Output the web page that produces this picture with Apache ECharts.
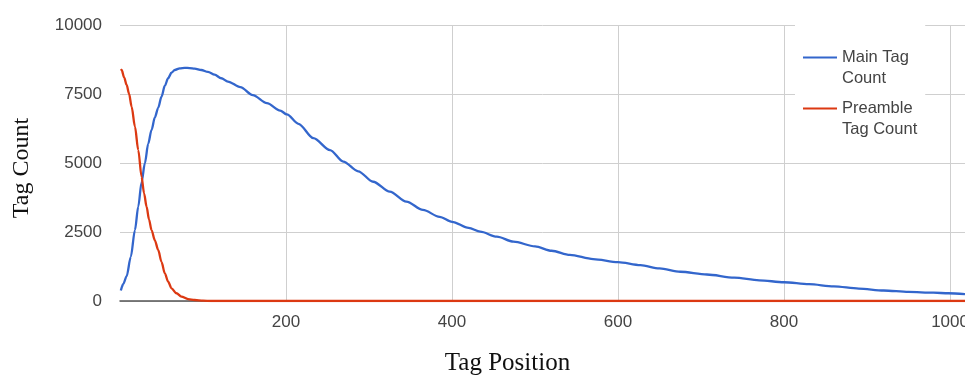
<!DOCTYPE html>
<html>
<head>
<meta charset="utf-8">
<script src="https://cdn.jsdelivr.net/npm/echarts@6/dist/echarts.min.js"></script>
<style>
html,body{margin:0;padding:0;background:#fff;overflow:hidden;}
#chart{width:965px;height:376px;}
</style>
</head>
<body>
<div id="chart"></div>
<script>
// Data
const mainX = [1, 4, 8, 13, 18, 22, 26, 30, 34, 38, 42, 46, 50, 54, 58, 62, 66, 72, 78, 84, 90, 98, 106, 114, 122, 130, 145, 160, 177, 193, 201, 215, 233, 253, 269, 287, 305, 325, 345, 365, 385, 400, 420, 434, 454, 474, 500, 520, 542, 570, 600, 627, 650, 675, 707, 740, 770, 800, 830, 860, 890, 920, 950, 980, 998, 1018];
const mainY = [380, 620, 900, 1600, 2570, 3420, 4300, 5000, 5700, 6200, 6650, 7000, 7400, 7800, 8070, 8270, 8370, 8430, 8450, 8440, 8420, 8370, 8300, 8200, 8070, 7950, 7750, 7460, 7170, 6900, 6760, 6420, 5900, 5470, 5050, 4700, 4320, 3960, 3600, 3300, 3050, 2870, 2650, 2510, 2330, 2150, 1980, 1820, 1670, 1520, 1410, 1300, 1180, 1060, 960, 850, 750, 680, 610, 530, 450, 380, 330, 300, 280, 250];
const preX = [1, 2, 5, 8, 11, 14, 18, 22, 26, 29, 32, 35, 38, 42, 46, 50, 54, 58, 62, 68, 74, 82, 90, 100, 110, 200, 400, 600, 800, 1018];
const preY = [8400, 8370, 8100, 7830, 7500, 7040, 6320, 5470, 4500, 3900, 3420, 2950, 2570, 2200, 1850, 1420, 1000, 700, 460, 280, 160, 70, 36, 10, 0, 0, 0, 0, 0, 0];
const seriesNames = ['Main Tag\nCount', 'Preamble\nTag Count'];
const xTicks = [200, 400, 600, 800, 1000];
const yTicks = [0, 2500, 5000, 7500, 10000];

const chart = echarts.init(document.getElementById('chart'), null, {renderer: 'canvas', width: 965, height: 376});
const pairs = (xs, ys) => xs.map((x, i) => [x, ys[i]]);

chart.setOption({
  animation: false,
  backgroundColor: '#fff',
  grid: {left: 120, right: 0, top: 25, bottom: 75, containLabel: false, outerBoundsMode: 'none'},
  legend: {
    orient: 'vertical',
    left: 795,
    top: 21,
    padding: [5, 8, 5, 8],
    backgroundColor: '#fff',
    icon: 'rect',
    itemWidth: 34,
    itemHeight: 2,
    itemGap: -12,
    formatter: name => '\u00a0\n' + name,
    textStyle: {
      fontFamily: 'Liberation Sans, Arial, sans-serif',
      fontSize: 16.5,
      lineHeight: 21,
      color: '#444'
    },
    data: seriesNames
  },
  xAxis: {
    type: 'value',
    min: 0,
    max: 1018,
    interval: 200,
    name: 'Tag Position',
    nameLocation: 'middle',
    nameGap: 50,
    nameTextStyle: {
      fontFamily: 'Liberation Serif, Times New Roman, serif',
      fontSize: 25,
      color: '#111',
      padding: [0, 70, 0, 0]
    },
    axisLine: {show: true, onZero: false, lineStyle: {color: '#555', width: 1.5}},
    axisTick: {show: false},
    axisLabel: {
      margin: 13,
      fontFamily: 'Liberation Sans, Arial, sans-serif',
      fontSize: 17,
      color: '#444',
      showMaxLabel: false,
      formatter: v => (xTicks.indexOf(v) >= 0 ? String(v) : '')
    },
    splitLine: {
      show: true,
      lineStyle: {color: ['rgba(0,0,0,0)', '#cfcfcf', '#cfcfcf', '#cfcfcf', '#cfcfcf', '#cfcfcf'], width: 1}
    }
  },
  yAxis: {
    type: 'value',
    min: 0,
    max: 10000,
    interval: 2500,
    name: 'Tag Count',
    nameLocation: 'middle',
    nameGap: 86,
    nameRotate: 90,
    nameTextStyle: {
      fontFamily: 'Liberation Serif, Times New Roman, serif',
      fontSize: 24,
      color: '#111',
      padding: [0, 10, 0, 0]
    },
    axisLine: {show: false},
    axisTick: {show: false},
    axisLabel: {
      margin: 18,
      fontFamily: 'Liberation Sans, Arial, sans-serif',
      fontSize: 17,
      color: '#444',
      formatter: v => (yTicks.indexOf(v) >= 0 ? String(v) : '')
    },
    splitLine: {show: true, lineStyle: {color: '#cfcfcf', width: 1}}
  },
  series: [
    {
      name: seriesNames[0],
      type: 'line',
      data: pairs(mainX, mainY),
      showSymbol: false,
      smooth: 0.3,
      smoothMonotone: 'x',
      color: '#3366cc',
      lineStyle: {color: '#3366cc', width: 2.3},
      z: 3
    },
    {
      name: seriesNames[1],
      type: 'line',
      data: pairs(preX, preY),
      showSymbol: false,
      smooth: 0.3,
      smoothMonotone: 'x',
      color: '#dc3912',
      lineStyle: {color: '#dc3912', width: 2.3},
      z: 4
    }
  ]
});
</script>
</body>
</html>
